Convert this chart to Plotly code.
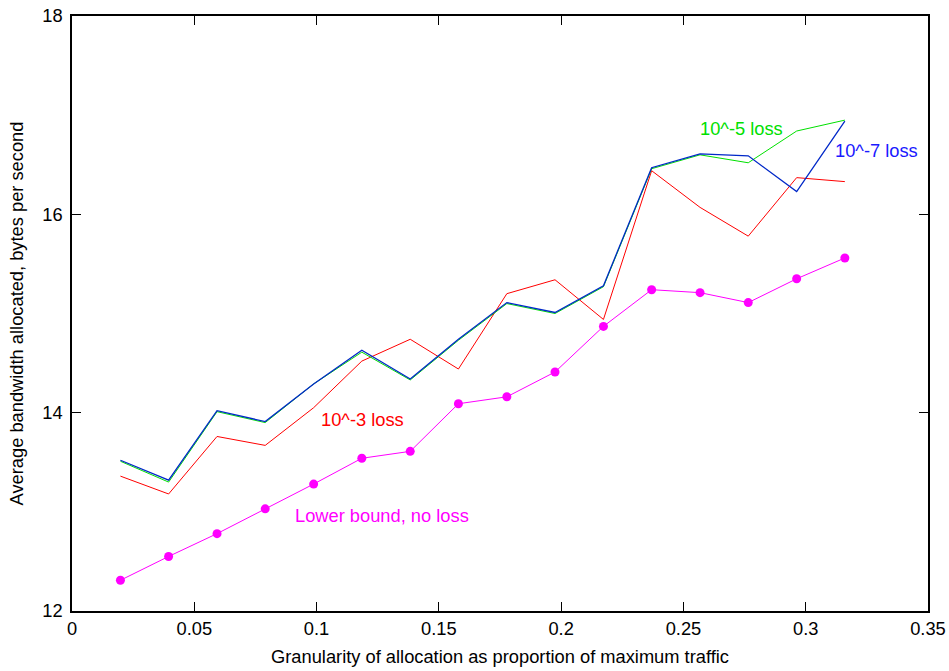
import plotly.graph_objects as go

x = [0.0198, 0.0395, 0.0593, 0.0790, 0.0988, 0.1185, 0.1383, 0.1580,
     0.1778, 0.1975, 0.2173, 0.2370, 0.2568, 0.2765, 0.2963, 0.3160]

loss_1e3 = [13.36, 13.18, 13.76, 13.67, 14.05, 14.52, 14.74, 14.44,
            15.20, 15.34, 14.94, 16.44, 16.07, 15.78, 16.37, 16.33]
loss_1e5 = [13.51, 13.30, 14.01, 13.90, 14.29, 14.61, 14.33, 14.73,
            15.10, 15.00, 15.27, 16.46, 16.60, 16.52, 16.84, 16.95]
loss_1e7 = [13.52, 13.32, 14.02, 13.91, 14.29, 14.63, 14.34, 14.74,
            15.11, 15.01, 15.28, 16.47, 16.61, 16.59, 16.23, 16.94]
lower_bound = [12.31, 12.55, 12.78, 13.03, 13.28, 13.54, 13.61, 14.09,
               14.16, 14.41, 14.87, 15.24, 15.21, 15.11, 15.35, 15.56]

labels = ["10^-3 loss", "10^-5 loss", "10^-7 loss", "Lower bound, no loss"]
label_pos = [(0.1008, 13.93), (0.2561, 16.87), (0.3112, 16.64), (0.0902, 12.965)]

RED, GREEN, BLUE, MAGENTA = "#ff0000", "#00e000", "#0028c8", "#ff00ff"
FONT = "Liberation Sans, Arial, sans-serif"
FS = 18.3

fig = go.Figure()
fig.add_trace(go.Scatter(x=x, y=loss_1e3, mode="lines", line=dict(color=RED, width=1)))
fig.add_trace(go.Scatter(x=x, y=loss_1e5, mode="lines", line=dict(color=GREEN, width=1)))
fig.add_trace(go.Scatter(x=x, y=loss_1e7, mode="lines", line=dict(color=BLUE, width=1.3)))
fig.add_trace(go.Scatter(x=x, y=lower_bound, mode="lines+markers",
                         line=dict(color=MAGENTA, width=1),
                         marker=dict(color=MAGENTA, size=9)))

label_colors = [RED, GREEN, "#1a1aff", MAGENTA]
for t, (lx, ly), c in zip(labels, label_pos, label_colors):
    fig.add_annotation(x=lx, y=ly, text=t, showarrow=False, xanchor="left",
                       yanchor="middle", font=dict(color=c, size=FS, family=FONT))

axis_common = dict(showline=True, linecolor="black", linewidth=1.5, mirror="ticks",
                   ticks="inside", ticklen=9, tickwidth=1, tickcolor="black",
                   showgrid=False, zeroline=False, automargin=False,
                   tickfont=dict(size=FS, family=FONT, color="black"))

fig.update_xaxes(range=[0, 0.35], dtick=0.05, tick0=0,
                 title=dict(text="Granularity of allocation as proportion of maximum traffic",
                            font=dict(size=FS, family=FONT, color="black"), standoff=12),
                 **axis_common)
fig.update_yaxes(range=[12, 18], dtick=2, tick0=12, ticklabelstandoff=4,
                 title=dict(text="Average bandwidth allocated, bytes per second",
                            font=dict(size=FS, family=FONT, color="black"), standoff=14),
                 **axis_common)

fig.update_layout(width=949, height=671, showlegend=False,
                  plot_bgcolor="white", paper_bgcolor="white",
                  margin=dict(l=72, r=21, t=16, b=60))

fig.write_html("out.html")
